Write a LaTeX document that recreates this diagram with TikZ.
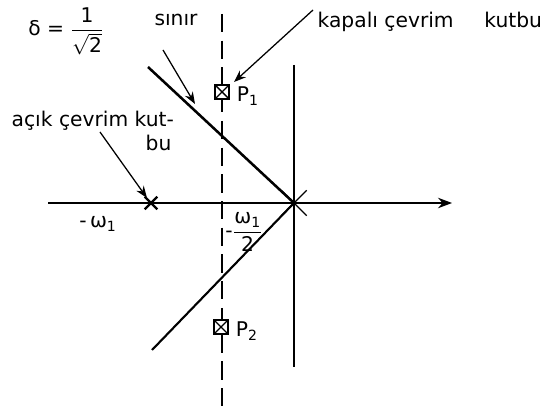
\documentclass[tikz,border=0pt]{standalone}
\usepackage{amsmath}
\usepackage{fontspec}
\setmainfont{DejaVu Sans}
\usetikzlibrary{arrows.meta, positioning, shapes.misc}
\tikzset{
  axis/.style={line width=1pt},
  locus/.style={line width=1.8pt},
  arr/.style={-{Stealth[length=3mm]}, line width=0.9pt},
  pmark/.style={draw, line width=1pt, minimum size=3.4mm, inner sep=0pt,
    path picture={\draw (path picture bounding box.south west) -- (path picture bounding box.north east)
      (path picture bounding box.north west) -- (path picture bounding box.south east);}},
  xmark/.style={draw, cross out, line width=1pt, minimum size=#1, inner sep=0pt},
  lbl/.style={font=\fontsize{14.4}{17}\selectfont, inner sep=1pt},
}

\begin{document}
\begin{tikzpicture}[x=0.025cm, y=-0.025cm]
    \useasboundingbox (0,0) rectangle (559,412);
    % axes
    \coordinate (re0) at (48,203);
    \coordinate (re1) at (452,203);
    \coordinate (im0) at (294,65);
    \coordinate (im1) at (294,367);
    \draw[axis, -{Stealth[length=3.5mm]}] (re0) -- (re1);
    \draw[axis] (im0) -- (im1);
    % boundary line
    \coordinate (d0) at (222,14);
    \coordinate (d1) at (222,410);
    \draw[line width=0.9pt, dash pattern=on 13pt off 6pt] (d0) -- (d1);
    % poles
    \node[xmark=6mm] (o) at (294,203) {};
    \node[xmark=2.6mm, line width=1.6pt] (w1) at (151,203) {};
    \node[pmark, fill=white] (p1) at (222,92) {};
    \node[pmark, fill=white] (p2) at (221,327) {};
    \node[lbl, right=4pt of p1, yshift=-3pt] (p1l) {P\textsubscript{1}};
    \node[lbl, right=4pt of p2, yshift=-3pt] (p2l) {P\textsubscript{2}};
    % loci
    \coordinate (la) at (148,67);
    \coordinate (lb) at (152,350);
    \draw[locus] (la) -- (o.center);
    \draw[line width=1.5pt] (lb) -- (o.center);
    % texts
    \node[lbl] (zeta) at (66,31) {δ = $\dfrac{\text{1}}{\sqrt{\text{2}}}$};
    \node[lbl] (sinir) at (176,20) {sınır};
    \node[lbl, anchor=west] (kapali) at (316,22) {kapalı çevrim\hspace{1.2em} kutbu};
    \node[lbl, anchor=west] (acik) at (10,121) {açık çevrim kut-};
    \node[lbl, anchor=west] (acik2) at (144,143) {bu};
    \node[lbl] (w1l) at (98,224) {-\,ω\textsubscript{1}};
    \node[lbl] (w2l) at (244,232) {-$\dfrac{\text{ω}_{\text{1}}}{\text{2}}$};
    % pointers
    \coordinate (s0) at (163,50);
    \coordinate (s1) at (195,104);
    \coordinate (k0) at (313,10);
    \coordinate (k1) at (234,82);
    \coordinate (a0) at (100,132);
    \coordinate (a1) at (147,198);
    \draw[arr] (s0) -- (s1);
    \draw[arr] (k0) -- (k1);
    \draw[arr] (a0) -- (a1);
\end{tikzpicture}
\end{document}
